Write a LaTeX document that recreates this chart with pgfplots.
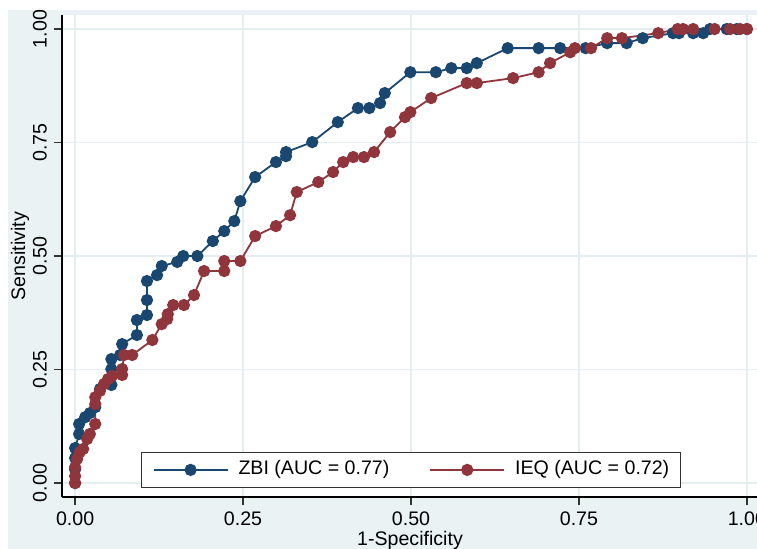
\documentclass[border=0pt]{standalone}
\usepackage{fontspec}
\setmainfont{Liberation Sans}
\usepackage{pgfplots}
\pgfplotsset{compat=1.18}
\definecolor{zbi}{HTML}{1A476F}
\definecolor{ieq}{HTML}{90353B}
\definecolor{bgc}{HTML}{EAF2F3}
\definecolor{gridc}{HTML}{E4EEF1}
\newcommand{\fs}{\fontsize{9.8}{11}\selectfont}
\begin{document}
\begin{tikzpicture}
\useasboundingbox (0,0) rectangle (378.5pt,-274.5pt);
\clip (0,0) rectangle (378.5pt,-274.5pt);
\fill[white] (0,0) rectangle (378.5pt,-274.5pt);
\fill[bgc] (4pt,-5pt) rectangle (400pt,-300pt);
\begin{axis}[
  at={(31pt,-248.5pt)}, anchor=south west,
  scale only axis, width=349pt, height=241pt,
  xmin=-0.0195, xmax=1.0195, ymin=-0.0308, ymax=1.031,
  axis background/.style={fill=white},
  axis x line*=bottom, axis y line*=left,
  axis line style={-, black, line width=0.6pt},
  xtick={0,0.25,0.5,0.75,1}, xticklabels={0.00,0.25,0.50,0.75,1.00},
  ytick={0,0.25,0.5,0.75,1}, yticklabels={0.00,0.25,0.50,0.75,1.00},
  tick align=outside, major tick length=4pt,
  tick style={black!80, line width=0.6pt},
  grid=major, major grid style={gridc, line width=0.8pt},
  ticklabel style={font=\fs},
  yticklabel style={rotate=90, anchor=south},
  xlabel={1-Specificity}, ylabel={Sensitivity},
  xlabel style={font=\fs, at={(axis description cs:0.4986,-0.1008)}, anchor=base},
  ylabel style={font=\fs, at={(axis description cs:-0.053,0.5)}, anchor=base, rotate=0},
  legend columns=2,
  legend image code/.code={\draw[mark repeat=2,mark phase=2,#1] plot coordinates {(0pt,0pt)(18.5pt,0pt)(37pt,0pt)};},
  legend style={at={(0.5,0)}, anchor=south, yshift=4.5pt, draw=black!80, line width=0.6pt,
    fill=white, inner xsep=5.5pt, inner ysep=4.25pt, font=\fs,
    nodes={inner sep=0pt, text height=7pt, text depth=2pt},
    /tikz/every odd column/.append style={column sep=5pt},
    /tikz/every even column/.append style={column sep=20pt}},
]
\addplot[zbi, line width=0.9pt, mark=*, mark size=2.6pt, mark options={solid, fill=zbi, draw=zbi}] coordinates {
(0,0)(0,0.03)(0,0.055)(0,0.077)(0.006,0.108)(0.006,0.130)(0.015,0.145)(0.022,0.154)(0.030,0.167)
(0.037,0.207)(0.054,0.216)(0.054,0.251)(0.054,0.273)(0.067,0.282)(0.070,0.306)(0.092,0.326)
(0.092,0.359)(0.107,0.370)(0.107,0.403)(0.107,0.445)(0.122,0.458)(0.129,0.478)(0.152,0.487)
(0.161,0.500)(0.182,0.500)(0.205,0.533)(0.222,0.555)(0.237,0.577)(0.246,0.621)(0.268,0.674)
(0.299,0.707)(0.314,0.720)(0.314,0.729)(0.353,0.751)(0.391,0.795)(0.421,0.826)(0.438,0.826)
(0.454,0.837)(0.461,0.859)(0.499,0.905)(0.537,0.905)(0.560,0.914)(0.583,0.914)(0.598,0.925)
(0.644,0.958)(0.690,0.958)(0.722,0.958)(0.760,0.958)(0.792,0.969)(0.821,0.969)(0.845,0.980)
(0.890,0.991)(0.899,0.991)(0.920,0.991)(0.935,0.991)(0.945,1)(0.970,1)(0.985,1)(1,1)
};
\addlegendentry{ZBI (AUC = 0.77)}
\addplot[ieq, line width=0.9pt, mark=*, mark size=2.6pt, mark options={solid, fill=ieq, draw=ieq}] coordinates {
(0,0)(0,0.015)(0,0.035)(0.003,0.053)(0.007,0.068)(0.012,0.075)(0.018,0.097)(0.022,0.108)
(0.030,0.130)(0.030,0.174)(0.030,0.189)(0.037,0.203)(0.043,0.218)(0.049,0.229)(0.055,0.236)
(0.070,0.238)(0.070,0.251)(0.073,0.282)(0.085,0.282)(0.115,0.315)(0.129,0.350)(0.137,0.361)
(0.138,0.372)(0.146,0.392)(0.162,0.392)(0.177,0.414)(0.192,0.467)(0.222,0.467)(0.222,0.489)
(0.246,0.489)(0.268,0.544)(0.299,0.566)(0.320,0.590)(0.330,0.641)(0.362,0.663)(0.384,0.685)
(0.399,0.707)(0.414,0.718)(0.430,0.718)(0.445,0.729)(0.469,0.773)(0.491,0.806)(0.499,0.817)
(0.530,0.848)(0.583,0.881)(0.598,0.881)(0.652,0.892)(0.690,0.905)(0.707,0.925)(0.737,0.949)
(0.744,0.958)(0.768,0.958)(0.792,0.980)(0.814,0.980)(0.868,0.991)(0.897,1)(0.905,1)(0.920,1)
(0.952,1)(0.975,1)(0.990,1)(1,1)
};
\addlegendentry{IEQ (AUC = 0.72)\hspace{5.5pt}}
\end{axis}
\end{tikzpicture}
\end{document}
